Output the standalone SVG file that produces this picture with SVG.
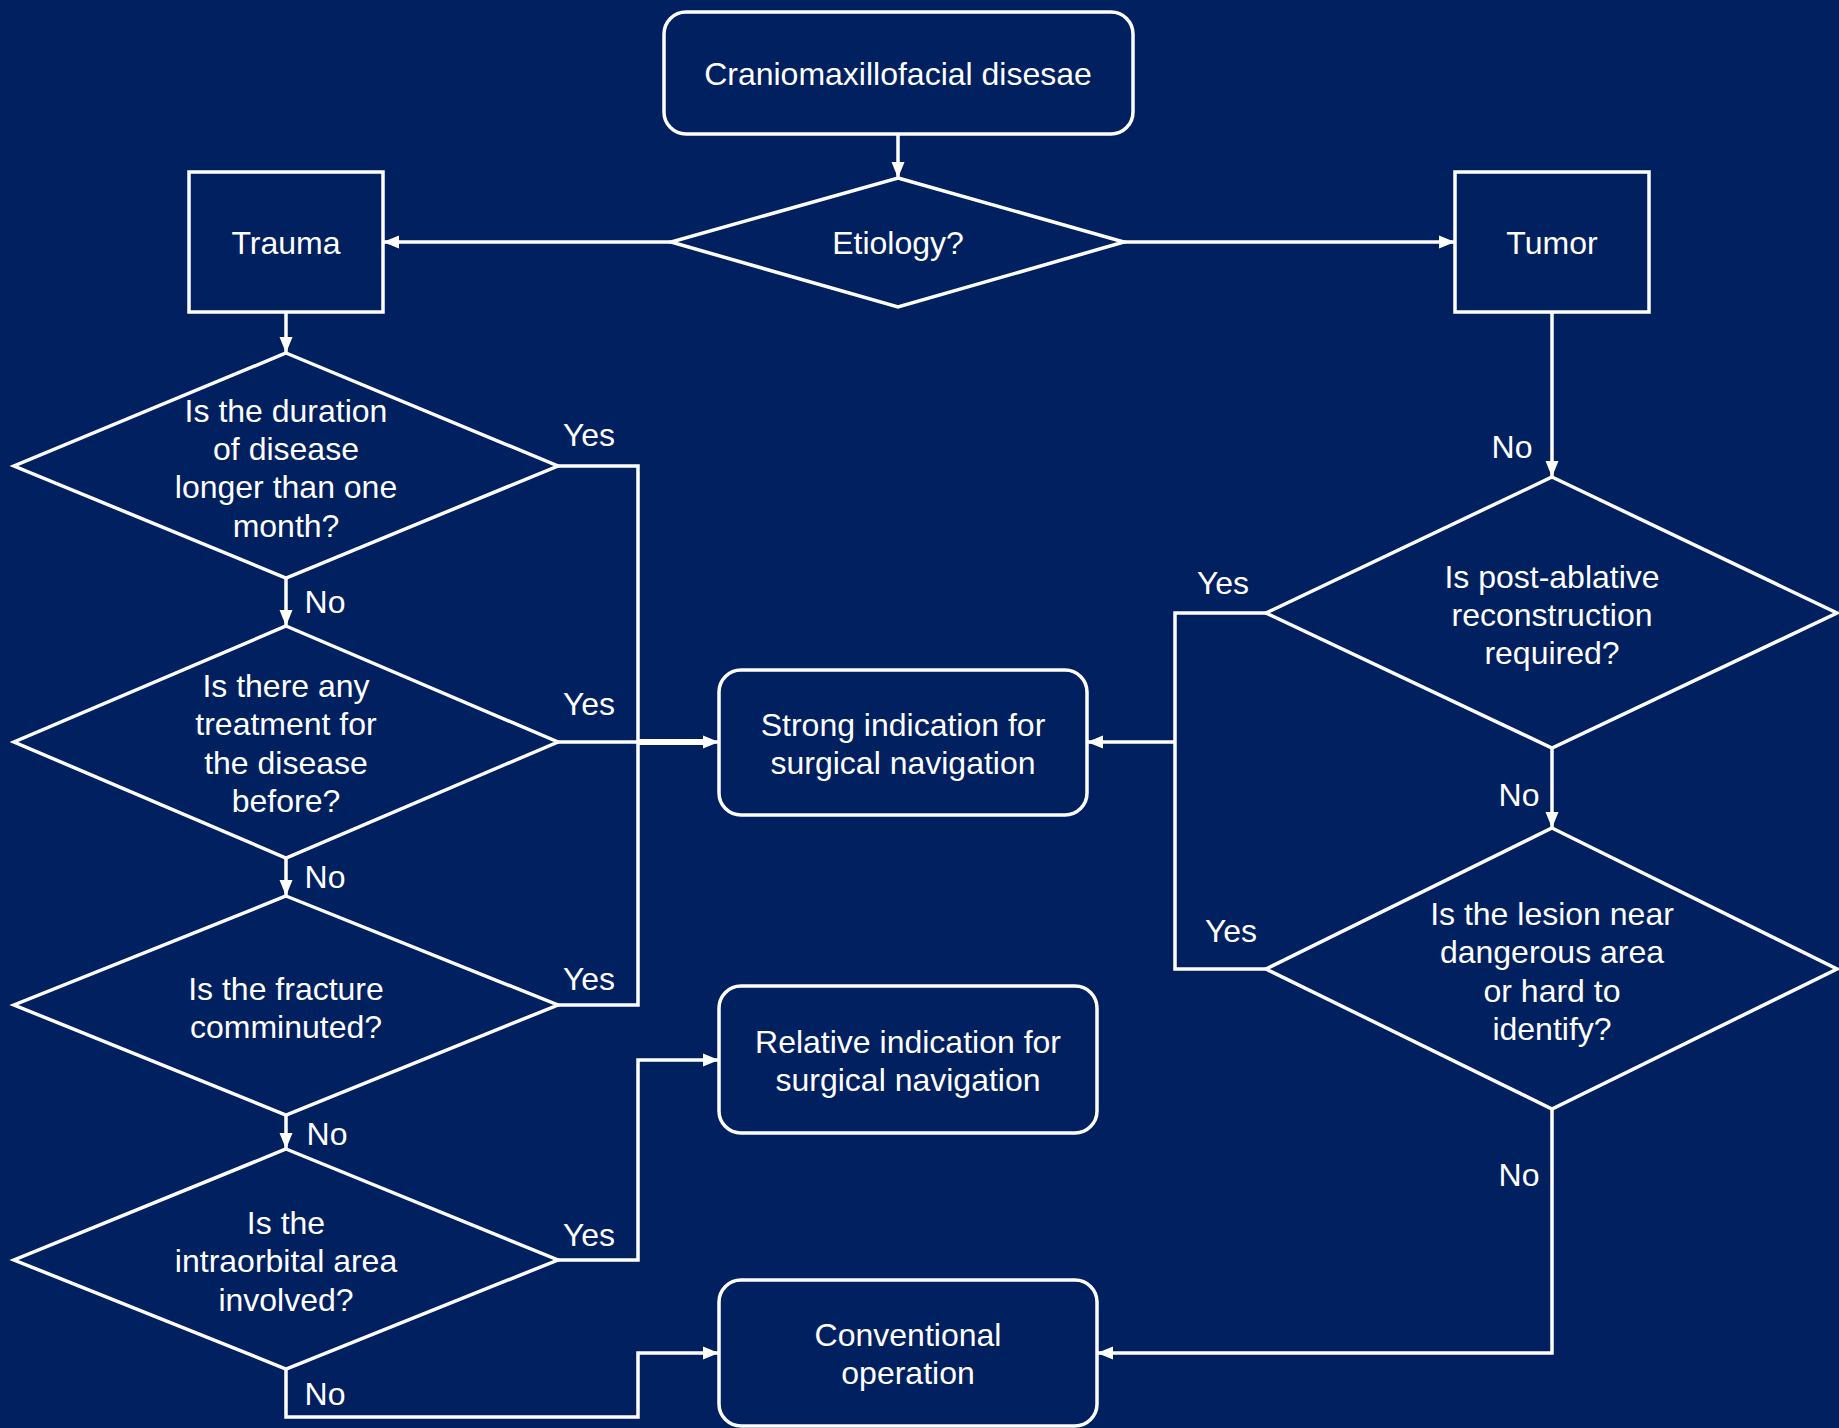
<svg xmlns="http://www.w3.org/2000/svg" width="1839" height="1428" viewBox="0 0 1839 1428">
<style>
.shape{fill:none;stroke:#ffffff;stroke-width:3.5}
.conn{fill:none;stroke:#ffffff;stroke-width:3.5}
text{font-family:"Liberation Sans",Arial,sans-serif;font-size:32px;fill:#ffffff;text-anchor:middle}
</style>
<defs>
<marker id="arr" markerUnits="userSpaceOnUse" markerWidth="16" markerHeight="14" viewBox="0 0 16 14" refX="15" refY="7" orient="auto">
<path d="M0,0.5 L16,7 L0,13.5 Z" fill="#ffffff"/>
</marker>
</defs>
<rect width="1839" height="1428" fill="#002060"/>
<g id="connectors">
<line class="conn" x1="898" y1="134" x2="898" y2="177" marker-end="url(#arr)"/>
<line class="conn" x1="671" y1="242" x2="384" y2="242" marker-end="url(#arr)"/>
<line class="conn" x1="1124" y1="242" x2="1454" y2="242" marker-end="url(#arr)"/>
<line class="conn" x1="286" y1="312" x2="286" y2="352" marker-end="url(#arr)"/>
<line class="conn" x1="286" y1="578" x2="286" y2="625" marker-end="url(#arr)"/>
<line class="conn" x1="286" y1="858" x2="286" y2="895" marker-end="url(#arr)"/>
<line class="conn" x1="286" y1="1115" x2="286" y2="1148" marker-end="url(#arr)"/>
<polyline class="conn" points="558,466 638,466 638,1005 558,1005"/>
<line class="conn" x1="558" y1="742" x2="718" y2="742" marker-end="url(#arr)"/>
<line class="conn" x1="638" y1="742" x2="706" y2="742" style="stroke-width:6"/>
<polyline class="conn" points="558,1260 638,1260 638,1060 718,1060" marker-end="url(#arr)"/>
<polyline class="conn" points="286,1369 286,1417 638,1417 638,1353 718,1353" marker-end="url(#arr)"/>
<line class="conn" x1="1552" y1="312" x2="1552" y2="476" marker-end="url(#arr)"/>
<line class="conn" x1="1552" y1="748" x2="1552" y2="827" marker-end="url(#arr)"/>
<polyline class="conn" points="1266,613 1175,613 1175,969 1266,969"/>
<line class="conn" x1="1175" y1="742" x2="1088" y2="742" marker-end="url(#arr)"/>
<polyline class="conn" points="1552,1109 1552,1353 1098,1353" marker-end="url(#arr)"/>
<text x="589" y="446">Yes</text>
<text x="589" y="715">Yes</text>
<text x="589" y="990">Yes</text>
<text x="589" y="1246">Yes</text>
<text x="325" y="613">No</text>
<text x="325" y="888">No</text>
<text x="327" y="1145">No</text>
<text x="325" y="1405">No</text>
<text x="1512" y="458">No</text>
<text x="1223" y="594">Yes</text>
<text x="1519" y="806">No</text>
<text x="1231" y="942">Yes</text>
<text x="1519" y="1186">No</text>
</g>
<g id="start">
<rect class="shape" x="664" y="12" width="469" height="122" rx="22"/>
<text x="898" y="85">Craniomaxillofacial disesae</text>
</g>
<g id="etiology">
<polygon class="shape" points="898,178 1124,242 898,307 671,242"/>
<text x="898" y="254">Etiology?</text>
</g>
<g id="trauma">
<rect class="shape" x="189" y="172" width="194" height="140"/>
<text x="286" y="254">Trauma</text>
</g>
<g id="tumor">
<rect class="shape" x="1455" y="172" width="194" height="140"/>
<text x="1552" y="254">Tumor</text>
</g>
<g id="q-duration">
<polygon class="shape" points="286,353 558,466 286,578 14,466"/>
<text x="286" y="422">Is the duration</text>
<text x="286" y="460">of disease</text>
<text x="286" y="498">longer than one</text>
<text x="286" y="537">month?</text>
</g>
<g id="q-treatment">
<polygon class="shape" points="286,626 558,742 286,858 14,742"/>
<text x="286" y="697">Is there any</text>
<text x="286" y="735">treatment for</text>
<text x="286" y="774">the disease</text>
<text x="286" y="812">before?</text>
</g>
<g id="q-fracture">
<polygon class="shape" points="286,896 558,1005 286,1115 14,1005"/>
<text x="286" y="1000">Is the fracture</text>
<text x="286" y="1038">comminuted?</text>
</g>
<g id="q-intraorbital">
<polygon class="shape" points="286,1149 558,1260 286,1369 14,1260"/>
<text x="286" y="1234">Is the</text>
<text x="286" y="1272">intraorbital area</text>
<text x="286" y="1311">involved?</text>
</g>
<g id="strong">
<rect class="shape" x="719" y="670" width="368" height="145" rx="22"/>
<text x="903" y="736">Strong indication for</text>
<text x="903" y="774">surgical navigation</text>
</g>
<g id="relative">
<rect class="shape" x="719" y="986" width="378" height="147" rx="22"/>
<text x="908" y="1053">Relative indication for</text>
<text x="908" y="1091">surgical navigation</text>
</g>
<g id="conventional">
<rect class="shape" x="719" y="1280" width="378" height="146" rx="22"/>
<text x="908" y="1346">Conventional</text>
<text x="908" y="1384">operation</text>
</g>
<g id="q-reconstruction">
<polygon class="shape" points="1552,477 1837,613 1552,748 1266,613"/>
<text x="1552" y="588">Is post-ablative</text>
<text x="1552" y="626">reconstruction</text>
<text x="1552" y="664">required?</text>
</g>
<g id="q-lesion">
<polygon class="shape" points="1552,828 1837,969 1552,1109 1266,969"/>
<text x="1552" y="925">Is the lesion near</text>
<text x="1552" y="963">dangerous area</text>
<text x="1552" y="1002">or hard to</text>
<text x="1552" y="1040">identify?</text>
</g>
</svg>
